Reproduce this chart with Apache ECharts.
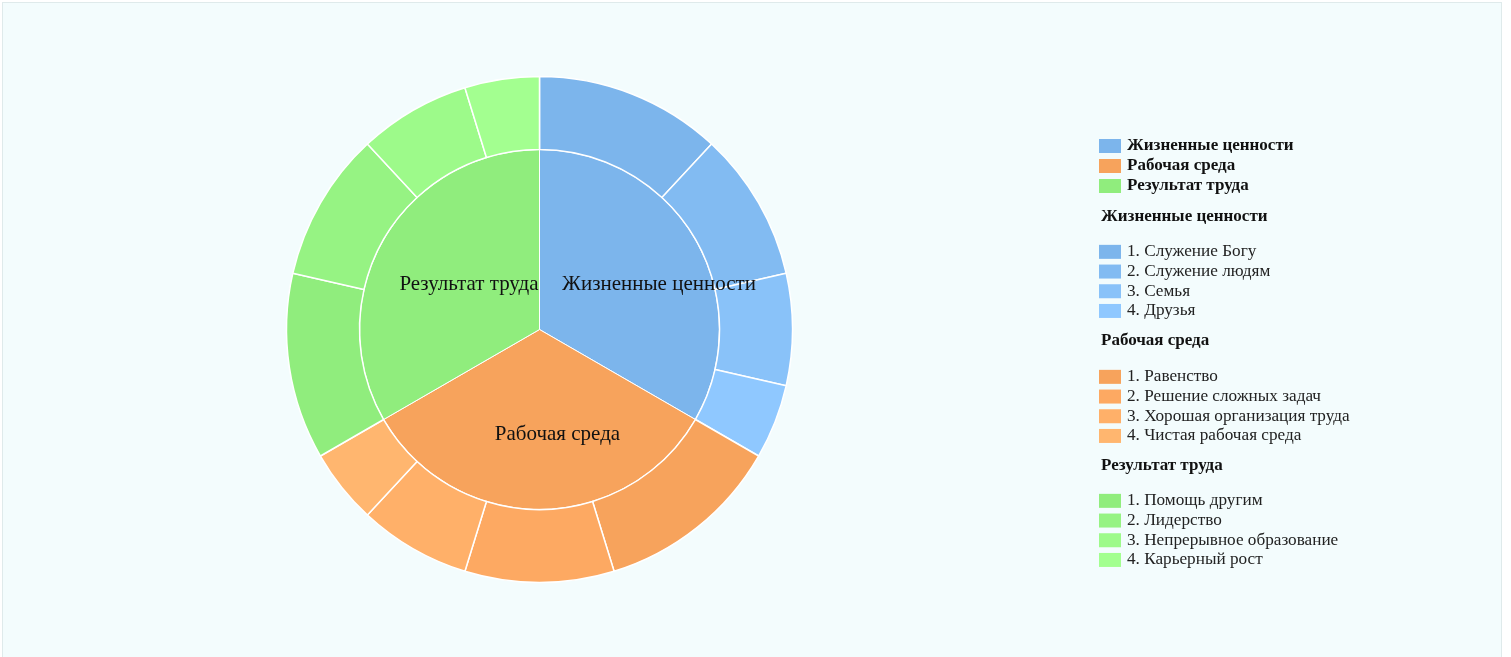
<!DOCTYPE html>
<html><head><meta charset="utf-8">
<script src="https://cdn.jsdelivr.net/npm/echarts@6/dist/echarts.min.js"></script>
<style>
html,body{margin:0;padding:0;background:#ffffff;}
#main{position:absolute;left:2px;top:2px;width:1498px;height:700px;border:1px solid #dfeaeb;background:#f3fcfd;}
</style></head>
<body><div id="main"></div>
<script>
const groups = ['Жизненные ценности', 'Рабочая среда', 'Результат труда'];
const groupColors = ['#7cb5ec', '#f7a35c', '#90ed7d'];
const lifeItems = ['1. Служение Богу', '2. Служение людям', '3. Семья', '4. Друзья'];
const lifeValues = [5, 4, 3, 2];
const lifeColors = ['#7cb5ec', '#82bbf2', '#89c2f9', '#8fc8ff'];
const workItems = ['1. Равенство', '2. Решение сложных задач', '3. Хорошая организация труда', '4. Чистая рабочая среда'];
const workValues = [5, 4, 3, 2];
const workColors = ['#f7a35c', '#fda962', '#ffb069', '#ffb66f'];
const resultItems = ['1. Помощь другим', '2. Лидерство', '3. Непрерывное образование', '4. Карьерный рост'];
const resultValues = [5, 4, 3, 2];
const resultColors = ['#90ed7d', '#96f383', '#9dfa8a', '#a3ff90'];

const subNames = [lifeItems, workItems, resultItems];
const subValues = [lifeValues, workValues, resultValues];
const subColors = [lifeColors, workColors, resultColors];
const labelOffsets = [[39, 1], [18, 12], [10, 1]];

const innerData = groups.map((g, i) => ({
  name: g,
  value: subValues[i].reduce((a, b) => a + b, 0),
  itemStyle: { color: groupColors[i] },
  label: { offset: labelOffsets[i] }
}));
const outerData = [];
subNames.forEach((names, i) => names.forEach((n, j) => outerData.push({
  name: n, value: subValues[i][j], itemStyle: { color: subColors[i][j] }
})));

const font = 'Liberation Serif, Times New Roman, serif';
const center = [536.5, 326.5];
const headStyle = { fontFamily: font, fontSize: 17, fontWeight: 'bold', color: '#111', lineHeight: 20 };
const legendHeadStyle = Object.assign({}, headStyle, { padding: [0, 0, 0, 1] });
const legendBase = {
  orient: 'vertical', left: 1096, padding: 0, icon: 'rect',
  itemWidth: 22, itemHeight: 14, itemGap: 0,
  itemStyle: { borderWidth: 0 },
  textStyle: { fontFamily: font, fontSize: 17.2, color: '#222', lineHeight: 19.7, padding: [0, 0, 0, 1] }
};
const chart = echarts.init(document.getElementById('main'));
chart.setOption({
  animation: false,
  title: [
    { text: groups[0], left: 1098, top: 204, padding: 0, textStyle: headStyle },
    { text: groups[1], left: 1098, top: 328, padding: 0, textStyle: headStyle },
    { text: groups[2], left: 1098, top: 453, padding: 0, textStyle: headStyle }
  ],
  legend: [
    Object.assign({}, legendBase, { top: 133, data: groups, textStyle: legendHeadStyle }),
    Object.assign({}, legendBase, { top: 239, data: lifeItems }),
    Object.assign({}, legendBase, { top: 364, data: workItems }),
    Object.assign({}, legendBase, { top: 488, data: resultItems })
  ],
  series: [
    {
      type: 'pie', center: center, radius: [0, 180], startAngle: 90, clockwise: true,
      itemStyle: { borderColor: '#ffffff', borderWidth: 1 },
      label: { show: true, position: 'inside', fontFamily: font, fontSize: 21, color: '#111' },
      labelLine: { show: false },
      data: innerData
    },
    {
      type: 'pie', center: center, radius: [180, 253], startAngle: 90, clockwise: true,
      itemStyle: { borderColor: '#ffffff', borderWidth: 1.5 },
      label: { show: false }, labelLine: { show: false },
      data: outerData
    }
  ]
});
</script></body></html>
